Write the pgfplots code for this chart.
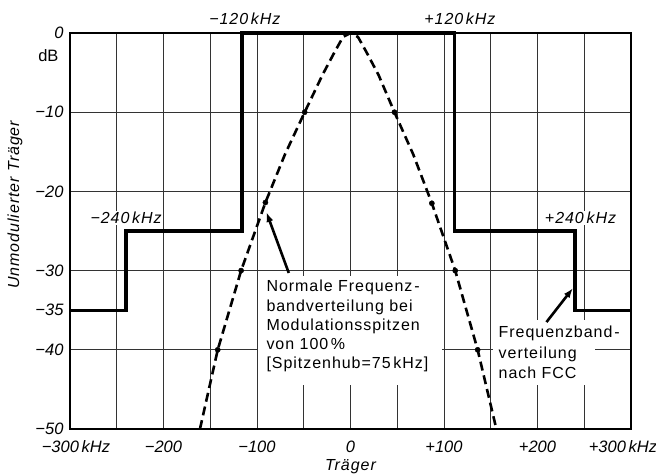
\documentclass[border=0pt]{standalone}
\usepackage{pgfplots}
\pgfplotsset{compat=1.18}
\usepackage{fontspec}
\setmainfont{Liberation Sans}
\newfontfamily\annfont[LetterSpace=6]{Liberation Sans}
\usetikzlibrary{arrows.meta}

\begin{document}
\begin{tikzpicture}
\useasboundingbox (-70pt,-47pt) rectangle (586pt,429pt);
\begin{axis}[
  scale only axis, width=561pt, height=396pt,
  xmin=-300, xmax=300, ymin=-50, ymax=0,
  clip=false,
  axis line style={line width=2pt},
  xtick={-300,-200,...,300},
  xticklabels={\hspace*{12pt}−300\,kHz, −200, −100, 0, +100, +200, +300\,kHz\hspace*{16pt}},
  minor xtick={-250,-150,...,250},
  ytick={0,-10,-20,-30,-35,-40,-50},
  yticklabels={0,−10,−20,−30,−35,−40,−50},
  minor ytick={-10,-20,-30,-40},
  xmajorgrids, xminorgrids, yminorgrids,
  major grid style={line width=1pt, black!80},
  minor grid style={line width=1pt, black!80},
  major tick length=0pt, minor tick length=0pt,
  tick label style={font=\fontsize{16.5}{19}\selectfont\itshape},
  xticklabel style={yshift=-8pt},
  yticklabel style={xshift=-3pt},
  ylabel={\annfont\itshape Unmodulierter Träger},
  ylabel style={at={(axis description cs:-0.098,0.566)}, anchor=center, font=\fontsize{16}{18}\selectfont},
  xlabel={\annfont\itshape Träger},
  xlabel style={at={(axis description cs:0.5,-0.096)}, anchor=center, font=\fontsize{16}{18}\selectfont},
]
% FCC band limits
\addplot[black, line width=3.2pt, line join=miter] coordinates {
  (-300,-35) (-240,-35) (-240,-25) (-116,-25) (-116,0) (111,0) (111,-25) (240,-25) (240,-35) (300,-35)};
% normal band distribution (dashed)
\addplot[black, line width=2.6pt, dash pattern=on 9pt off 5pt, line join=round] coordinates {
  (-161,-50) (-142,-40) (-117,-30) (-91,-21.4) (-70,-15.3) (-49,-10) (-30,-5.3) (-17,-2.4) (-8,-0.5) (0,0)
  (8,-0.5) (17,-2.4) (30,-5.3) (47,-10) (67,-15.3) (87,-21.5) (112,-30) (136,-40) (156,-50)};
\addplot[only marks, mark=*, mark size=2.6pt, black] coordinates {
  (-142,-40) (-117,-30) (-91,-21.4) (-49,-10) (47,-10) (87,-21.5) (112,-30) (136,-40)};

% masks behind annotation text
\fill[white] (axis cs:-99,-30.7) rectangle (axis cs:97.5,-44.4);
\fill[white] (axis cs:152,-36.3) rectangle (axis cs:262,-44.4);

\node[anchor=north west, inner sep=0pt, align=left, font=\annfont\fontsize{16}{19.2}\selectfont]
  at (axis cs:-90,-31.2) {Normale Frequenz\kern2pt-\\bandverteilung bei\\Modulationsspitzen\\von 100\,\%\\{[}Spitzenhub=75\,kHz{]}};
\node[anchor=north west, inner sep=0pt, align=left, font=\annfont\fontsize{16}{20.5}\selectfont]
  at (axis cs:158.3,-37) {Frequenzband\kern2pt-\\verteilung\\nach FCC};

% arrows
\draw[line width=2.6pt, -{Latex[length=10pt,width=7pt]}] (axis cs:-66,-30.3) -- (axis cs:-90,-22.6);
\draw[line width=2.6pt, -{Latex[length=10pt,width=7pt]}] (axis cs:209.6,-36.5) -- (axis cs:238,-32.2);

% labels
\node[anchor=base, yshift=8pt, font=\annfont\fontsize{16}{18}\selectfont\itshape] at (axis cs:-113,0) {−120\,kHz};
\node[anchor=base, yshift=8pt, font=\annfont\fontsize{16}{18}\selectfont\itshape] at (axis cs:117,0) {+120\,kHz};
\node[anchor=base, yshift=7pt, fill=white, inner sep=1pt, font=\annfont\fontsize{16}{18}\selectfont\itshape] at (axis cs:-240,-25) {−240\,kHz};
\node[anchor=base, yshift=7pt, fill=white, inner sep=1pt, font=\annfont\fontsize{16}{18}\selectfont\itshape] at (axis cs:246,-25) {+240\,kHz};
\node[anchor=east, xshift=-8pt, font=\fontsize{16.5}{18}\selectfont] at (axis cs:-300,-2.9) {dB};
\end{axis}
\end{tikzpicture}
\end{document}
